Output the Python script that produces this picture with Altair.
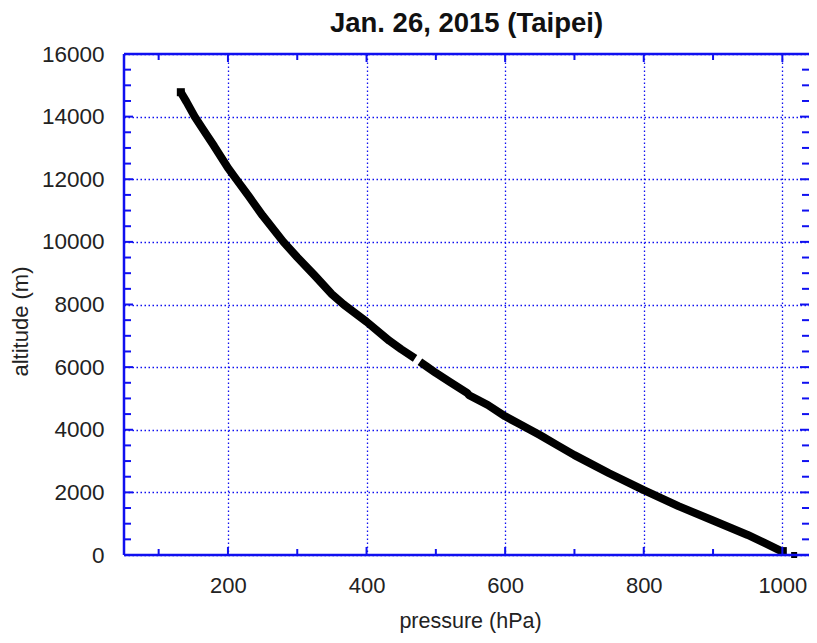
import altair as alt
import pandas as pd

# upper segment of the sounding (before the small gap)
seg1_p = [132, 140, 152, 165, 180, 200, 212, 230, 250, 280, 300, 325, 350, 367, 400, 433, 450, 470]
seg1_z = [14780, 14480, 14000, 13560, 13060, 12360, 12000, 11460, 10840, 10000, 9510, 8930, 8330, 8000, 7450, 6840, 6570, 6280]
# lower segment
seg2_p = [477, 488, 500, 520, 545, 548, 575, 600, 620, 636, 650, 675, 700, 750, 800, 850, 900, 925, 950, 975, 1000]
seg2_z = [6170, 6000, 5815, 5530, 5180, 5100, 4790, 4430, 4190, 4000, 3830, 3510, 3190, 2610, 2070, 1560, 1100, 870, 640, 380, 110]
# surface observation
sfc_p = [1017]
sfc_z = [0]

x_major = [200, 400, 600, 800, 1000]
x_minor = [100, 300, 500, 700, 900]
y_major = [0, 2000, 4000, 6000, 8000, 10000, 12000, 14000, 16000]
y_minor = [500, 1000, 1500, 2500, 3000, 3500, 4500, 5000, 5500, 6500, 7000, 7500,
           8500, 9000, 9500, 10500, 11000, 11500, 12500, 13000, 13500, 14500, 15000, 15500]

W, H = 685, 501      # visible plot area (right edge of the frame falls outside the page)
XR = 693             # pixel length of the full 50..1050 pressure range
BLUE = "#1010f0"
FONT = "Liberation Sans"

df = pd.DataFrame({
    "p": seg1_p + seg2_p,
    "z": seg1_z + seg2_z,
    "seg": ["a"] * len(seg1_p) + ["b"] * len(seg2_p),
})
df_sfc = pd.DataFrame({"p": sfc_p, "z": sfc_z})
df_end = pd.DataFrame({"p": [seg2_p[-1]], "z": [seg2_z[-1]]})
df_start = pd.DataFrame({"p": [seg1_p[0]], "z": [seg1_z[0]]})
df_xmaj = pd.DataFrame({"p": x_major})
df_xmin = pd.DataFrame({"p": x_minor})
df_ymaj = pd.DataFrame({"z": y_major})
df_ymin = pd.DataFrame({"z": y_minor})
df_one = pd.DataFrame({"k": [0]})

xs = alt.Scale(domain=[50, 1050], range=[0, XR], nice=False, zero=False)
ys = alt.Scale(domain=[0, 16000], nice=False, zero=False)

xaxis = alt.Axis(values=x_major, format="d", grid=True, ticks=False, domain=False,
                 labelFontSize=22, labelPadding=20, labelColor="#222",
                 labelFont=FONT, titleFont=FONT, titleFontSize=21.5,
                 titleFontWeight="normal", titleColor="#222",
                 titleBaseline="middle", titleX=346, titleY=66,
                 gridColor=BLUE, gridDash=[1.5, 2.5], gridWidth=1.3)
yaxis = alt.Axis(values=y_major, format="d", grid=True, ticks=False, domain=False,
                 labelFontSize=22.5, labelPadding=20, labelColor="#222",
                 labelFont=FONT, titleFont=FONT, titleFontSize=22,
                 titleFontWeight="normal", titleColor="#222",
                 titleBaseline="middle", titleX=-104, titleY=267, titleAngle=-90,
                 gridColor=BLUE, gridDash=[1.5, 2.5], gridWidth=1.3)

X = lambda: alt.X("p:Q", scale=xs, axis=xaxis, title="pressure (hPa)")
Y = lambda: alt.Y("z:Q", scale=ys, axis=yaxis, title="altitude (m)")

line = alt.Chart(df).mark_line(
    color="black", strokeWidth=8, strokeCap="butt", strokeJoin="round"
).encode(x=X(), y=Y(), detail="seg:N")

start_pt = alt.Chart(df_start).mark_square(color="black", size=64, opacity=1).encode(x=X(), y=Y())
end_pt = alt.Chart(df_end).mark_square(color="black", size=80, opacity=1).encode(x=X(), y=Y())
sfc = alt.Chart(df_sfc).mark_square(color="black", size=36, opacity=1).encode(x=X(), y=Y())

def xt(d, y1, y2):
    return alt.Chart(d).mark_rule(color=BLUE, strokeWidth=2).encode(
        x=X(), y=alt.value(y1), y2=alt.value(y2))

def yt(d, x1, x2):
    return alt.Chart(d).mark_rule(color=BLUE, strokeWidth=2).encode(
        y=Y(), x=alt.value(x1), x2=alt.value(x2))

ticks = [
    xt(df_xmaj, H, H - 8), xt(df_xmin, H, H - 6),
    xt(df_xmaj, 0, 8), xt(df_xmin, 0, 6),
    yt(df_ymaj, 0, 9), yt(df_ymin, 0, 7),
    yt(df_ymaj, W, W - 9), yt(df_ymin, W, W - 7),
]

frame = [
    alt.Chart(df_one).mark_rule(color=BLUE, strokeWidth=2.5).encode(
        x=alt.value(0), y=alt.value(0), y2=alt.value(H)),
    alt.Chart(df_one).mark_rule(color=BLUE, strokeWidth=2.5).encode(
        x=alt.value(0), x2=alt.value(W), y=alt.value(0)),
    alt.Chart(df_one).mark_rule(color=BLUE, strokeWidth=2.5).encode(
        x=alt.value(0), x2=alt.value(W), y=alt.value(H)),
]

chart = alt.layer(line, start_pt, end_pt, sfc, *ticks, *frame).properties(
    width=W, height=H,
    title=alt.TitleParams("Jan. 26, 2015 (Taipei)", font=FONT, fontSize=27.5,
                          fontWeight="bold", color="#111", anchor="middle",
                          baseline="alphabetic", offset=19, dy=35),
    autosize=alt.AutoSizeParams(type="none"),
    padding={"left": 116, "top": 46, "right": 0, "bottom": 80},
).configure_view(stroke=None)

chart.save("out.html", embed_options={"renderer": "svg", "actions": False})
